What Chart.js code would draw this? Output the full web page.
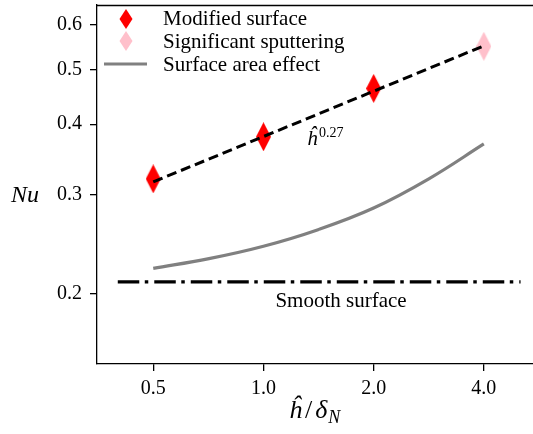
<!DOCTYPE html>
<html>
<head>
<meta charset="utf-8">
<script src="https://cdn.jsdelivr.net/npm/chart.js@4/dist/chart.umd.min.js"></script>
<style>
html,body{margin:0;padding:0;background:#fff;overflow:hidden;}
#wrap{width:533px;height:434px;position:relative;}
</style>
</head>
<body>
<div id="wrap"><canvas id="c" width="533" height="434"></canvas></div>
<script>
// ---- data ----
const xTicks = [0.5, 1.0, 2.0, 4.0];
const yTicks = [0.2, 0.3, 0.4, 0.5, 0.6];
const modifiedX = [0.5, 1.0, 2.0];
const modifiedY = [0.320, 0.380, 0.463];
const sputterX = [4.0];
const sputterY = [0.550];
const fitX = [0.5, 4.0];
const fitY = [0.316, 0.551];
const areaX = [0.5, 0.71, 1.0, 1.41, 2.0, 2.83, 4.0];
const areaY = [0.222, 0.231, 0.243, 0.260, 0.284, 0.320, 0.369];
const smoothX = [0.40, 5.04];
const smoothY = [0.210, 0.210];
const legendLabels = ['Modified surface', 'Significant sputtering', 'Surface area effect'];

const pts = (xs, ys) => xs.map((x, i) => ({x: x, y: ys[i]}));

function diamond(w, h, color) {
  const c = document.createElement('canvas');
  c.width = w; c.height = h;
  const g = c.getContext('2d');
  g.fillStyle = color;
  g.beginPath();
  g.moveTo(w/2, 0); g.lineTo(w, h/2); g.lineTo(w/2, h); g.lineTo(0, h/2);
  g.closePath(); g.fill();
  return c;
}
const RED = '#ff0000', PINK = '#ffc0cb', GRAY = '#808080';

const SERIF = "'Liberation Serif', 'Times New Roman', serif";

const decor = {
  id: 'decor',
  afterDraw(chart) {
    const ctx = chart.ctx;
    const a = chart.chartArea;
    ctx.save();
    // top spine
    ctx.strokeStyle = '#000'; ctx.lineWidth = 1.3;
    ctx.beginPath(); ctx.moveTo(a.left, a.top + 0.5); ctx.lineTo(a.right, a.top + 0.5); ctx.stroke();

    // legend
    const lx = 126;
    const rows = [19, 41, 64];
    const dW = 13, dH = 20;
    ctx.fillStyle = RED;
    ctx.beginPath();
    ctx.moveTo(lx, rows[0]-dH/2); ctx.lineTo(lx+dW/2, rows[0]); ctx.lineTo(lx, rows[0]+dH/2); ctx.lineTo(lx-dW/2, rows[0]);
    ctx.closePath(); ctx.fill();
    ctx.fillStyle = PINK;
    ctx.beginPath();
    ctx.moveTo(lx, rows[1]-dH/2); ctx.lineTo(lx+dW/2, rows[1]); ctx.lineTo(lx, rows[1]+dH/2); ctx.lineTo(lx-dW/2, rows[1]);
    ctx.closePath(); ctx.fill();
    ctx.strokeStyle = GRAY; ctx.lineWidth = 3.2;
    ctx.beginPath(); ctx.moveTo(104, rows[2]); ctx.lineTo(147, rows[2]); ctx.stroke();

    ctx.fillStyle = '#000';
    ctx.font = '21px ' + SERIF;
    ctx.textAlign = 'left'; ctx.textBaseline = 'alphabetic';
    const base = [25, 48, 71];
    legendLabels.forEach((t, i) => ctx.fillText(t, 163, base[i]));

    // annotations
    ctx.font = 'italic 21px ' + SERIF;
    ctx.fillText('\u0125', 307, 145);
    ctx.font = '14px ' + SERIF;
    ctx.fillText('0.27', 319, 137);

    ctx.font = '21px ' + SERIF;
    ctx.textAlign = 'center';
    ctx.fillText('Smooth surface', 341, 307);

    // y title
    ctx.font = 'italic 24px ' + SERIF;
    ctx.textAlign = 'center';
    ctx.fillText('Nu', 25, 202);

    // x title: ĥ/δ_N
    ctx.textAlign = 'left';
    let x = 289; const by = 418;
    ctx.font = 'italic 26px ' + SERIF;
    ctx.fillText('\u0125', x, by); x += ctx.measureText('\u0125').width + 3;
    ctx.font = '26px ' + SERIF;
    ctx.fillText('/', x, by); x += ctx.measureText('/').width + 3;
    ctx.font = 'italic 26px ' + SERIF;
    ctx.fillText('\u03b4', x, by); x += ctx.measureText('\u03b4').width + 1;
    ctx.font = 'italic 18px ' + SERIF;
    ctx.fillText('N', x, by + 5);
    ctx.restore();
  }
};

const tickFont = {family: SERIF, size: 20};

new Chart(document.getElementById('c'), {
  type: 'scatter',
  data: {
    datasets: [
      {label: 'fit', data: pts(fitX, fitY), showLine: true, borderColor: '#000', borderWidth: 3,
       borderDash: [10, 5], pointRadius: 0, order: 0},
      {label: legendLabels[0], data: pts(modifiedX, modifiedY), pointStyle: diamond(15, 29, RED),
       pointRadius: 10, order: 1},
      {label: legendLabels[1], data: pts(sputterX, sputterY), pointStyle: diamond(15, 29, PINK),
       pointRadius: 10, order: 1},
      {label: legendLabels[2], data: pts(areaX, areaY), showLine: true, borderColor: GRAY, borderWidth: 3.2,
       tension: 0.4, pointRadius: 0, order: 2},
      {label: 'smooth', data: pts(smoothX, smoothY), showLine: true, borderColor: '#000', borderWidth: 3.3,
       borderDash: [21.5, 5.5, 3.5, 6], pointRadius: 0, order: 2}
    ]
  },
  options: {
    responsive: false,
    animation: false,
    events: [],
    layout: {autoPadding: false, padding: {top: 5, left: 0, right: 0, bottom: 0}},
    plugins: {legend: {display: false}, tooltip: {enabled: false}},
    scales: {
      x: {
        type: 'logarithmic', min: 0.351, max: 5.45,
        afterBuildTicks: s => { s.ticks = xTicks.map(v => ({value: v})); },
        afterFit: s => { s.height = 70; s.paddingLeft = 0; s.paddingRight = 0; },
        ticks: {font: tickFont, color: '#000', padding: 6, maxRotation: 0, autoSkip: false,
                callback: v => Number(v).toFixed(1)},
        grid: {drawOnChartArea: false, drawTicks: true, tickLength: 7, color: '#000', lineWidth: 1.3},
        border: {display: true, color: '#000', width: 1.3}
      },
      y: {
        type: 'logarithmic', min: 0.1502, max: 0.651,
        afterBuildTicks: s => { s.ticks = yTicks.map(v => ({value: v})); },
        afterFit: s => { s.width = 97; s.paddingTop = 0; s.paddingBottom = 0; },
        ticks: {font: tickFont, color: '#000', padding: 8, autoSkip: false,
                callback: v => Number(v).toFixed(1)},
        grid: {drawOnChartArea: false, drawTicks: true, tickLength: 7, color: '#000', lineWidth: 1.3},
        border: {display: true, color: '#000', width: 1.3}
      }
    }
  },
  plugins: [decor]
});
</script>
</body>
</html>
